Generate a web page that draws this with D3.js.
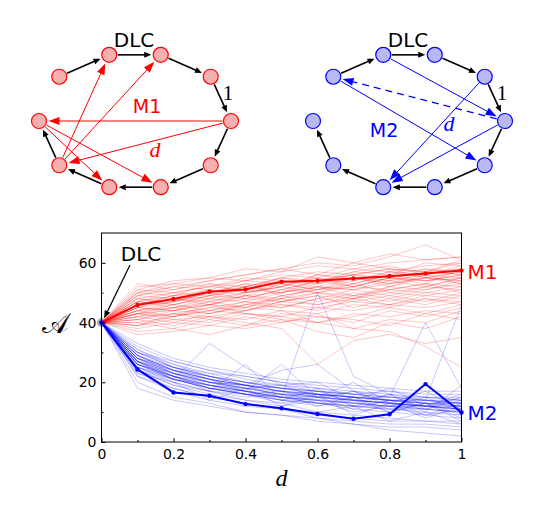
<!DOCTYPE html>
<html>
<head>
<meta charset="utf-8">
<script src="https://cdn.jsdelivr.net/npm/d3@7"></script>
<style>
body { margin: 0; background: #fff; }
svg { display: block; }
</style>
</head>
<body>
<svg id="fig" width="545" height="516"></svg>
<script>
// ---- data ----
const dValues = [0, 0.1, 0.2, 0.3, 0.4, 0.5, 0.6, 0.7, 0.8, 0.9, 1];
const startValue = 40; // DLC
const m1Mean = [40, 45.9, 47.9, 50.3, 51.1, 53.7, 54.0, 54.8, 55.5, 56.4, 57.4];
const m2Mean = [40, 24.3, 16.6, 15.5, 12.7, 11.3, 9.4, 7.8, 9.3, 19.4, 9.9];

// single runs, values for d = 0.1 ... 1 (all start at 40)
const m1Runs = [
    [44, 46, 48, 47, 50, 52, 51, 53, 55, 54],
    [47, 49, 50, 52, 51, 54, 56, 55, 57, 58],
    [42, 43, 45, 44, 47, 46, 48, 50, 49, 51],
    [50, 52, 51, 54, 56, 55, 58, 57, 59, 60],
    [39, 41, 40, 43, 42, 45, 44, 46, 45, 47],
    [45, 44, 47, 49, 48, 50, 52, 51, 53, 52],
    [52, 53, 55, 54, 57, 59, 58, 60, 61, 62],
    [37, 38, 36, 39, 41, 40, 43, 42, 44, 43],
    [46, 48, 47, 50, 53, 51, 52, 55, 54, 56],
    [43, 45, 46, 48, 47, 49, 48, 51, 53, 50],
    [48, 47, 50, 53, 52, 56, 54, 57, 56, 59],
    [41, 39, 42, 41, 44, 43, 46, 45, 48, 46],
    [44, 47, 49, 48, 51, 50, 53, 56, 54, 55],
    [49, 51, 53, 52, 55, 57, 56, 54, 58, 57],
    [40, 42, 44, 46, 45, 48, 47, 49, 47, 50],
    [45, 48, 46, 49, 50, 53, 55, 52, 56, 53],
    [38, 40, 39, 42, 40, 43, 38, 41, 40, 44],
    [51, 50, 52, 55, 54, 53, 57, 59, 56, 58],
    [43, 44, 43, 46, 49, 47, 50, 48, 51, 53],
    [47, 46, 49, 51, 50, 52, 51, 54, 52, 55],
    [42, 45, 47, 45, 48, 52, 49, 47, 50, 49],
    [53, 51, 54, 56, 58, 56, 60, 58, 57, 61],
    [40, 38, 41, 39, 43, 42, 40, 44, 42, 45],
    [46, 49, 51, 50, 52, 55, 53, 56, 58, 56],
    [44, 42, 45, 47, 46, 44, 48, 46, 49, 48],
    [48, 50, 49, 52, 54, 52, 55, 53, 55, 57],
    [39, 42, 44, 43, 41, 37, 35, 40, 38, 42],
    [45, 47, 50, 53, 49, 51, 54, 57, 55, 53],
    [41, 43, 42, 44, 47, 49, 45, 48, 46, 49],
    [50, 53, 52, 51, 55, 54, 57, 56, 60, 59],
    [36, 37, 39, 38, 40, 42, 41, 39, 43, 41],
    [47, 45, 48, 50, 52, 50, 49, 52, 51, 54],
    [43, 46, 44, 47, 45, 48, 51, 49, 52, 51],
    [49, 48, 51, 49, 53, 55, 52, 55, 54, 56],
    [42, 40, 43, 45, 44, 40, 42, 45, 43, 46],
    [46, 49, 48, 52, 50, 54, 56, 58, 55, 57],
    [43, 41, 42, 40, 38, 26, 34, 36, 33, 35],
    [45, 44, 46, 43, 42, 40, 38, 37, 32, 25],
    [49, 52, 54, 56, 58, 60, 59, 62, 66, 61],
    [51, 54, 55, 58, 57, 62, 60, 63, 61, 62],
    [41, 44, 46, 45, 49, 51, 53, 50, 52, 55],
    [48, 46, 49, 52, 55, 53, 56, 58, 57, 60],
    [44, 45, 43, 46, 48, 46, 49, 51, 50, 52],
    [50, 49, 53, 50, 52, 56, 55, 53, 57, 56],
    [39, 43, 41, 44, 46, 45, 47, 46, 48, 47],
    [46, 47, 50, 48, 51, 54, 52, 55, 53, 58],
    [43, 42, 46, 49, 47, 50, 48, 52, 55, 54],
    [47, 50, 52, 54, 53, 51, 55, 54, 56, 55]
];
const m2Runs = [
    [28, 23, 20, 18, 16, 15, 14, 13, 12, 12],
    [26, 21, 18, 16, 17, 13, 15, 11, 13, 9],
    [30, 25, 22, 20, 18, 17, 15, 14, 14, 13],
    [24, 19, 16, 14, 12, 14, 10, 12, 9, 11],
    [29, 24, 21, 19, 17, 16, 15, 15, 14, 13],
    [27, 22, 19, 17, 15, 14, 13, 12, 12, 11],
    [32, 27, 24, 21, 19, 18, 17, 16, 15, 15],
    [25, 20, 17, 15, 16, 12, 14, 10, 13, 8],
    [28, 24, 20, 19, 15, 17, 13, 16, 11, 14],
    [23, 18, 15, 13, 11, 9, 8, 7, 7, 6],
    [31, 26, 23, 22, 20, 18, 16, 17, 15, 14],
    [26, 22, 18, 17, 14, 16, 12, 14, 9, 13],
    [29, 23, 21, 18, 16, 16, 14, 13, 12, 11],
    [20, 15, 13, 10, 9, 7, 6, 5, 5, 4],
    [27, 23, 19, 18, 16, 14, 17, 12, 15, 10],
    [30, 26, 22, 19, 18, 16, 15, 14, 13, 12],
    [25, 21, 18, 16, 13, 15, 11, 14, 12, 16],
    [28, 22, 20, 17, 15, 13, 12, 11, 10, 9],
    [24, 20, 17, 16, 14, 12, 15, 10, 13, 7],
    [33, 28, 25, 23, 21, 20, 19, 18, 17, 17],
    [26, 21, 19, 17, 16, 15, 14, 13, 12, 12],
    [22, 17, 14, 12, 11, 10, 9, 8, 7, 7],
    [29, 25, 22, 20, 19, 17, 16, 15, 15, 14],
    [27, 22, 18, 16, 14, 13, 11, 10, 9, 8],
    [18, 14, 12, 10, 9, 8, 7, 6, 6, 5],
    [31, 25, 23, 20, 18, 17, 16, 14, 14, 13],
    [26, 23, 20, 18, 19, 15, 17, 13, 11, 15],
    [28, 24, 21, 19, 18, 16, 15, 14, 13, 13],
    [24, 19, 17, 14, 13, 10, 12, 7, 10, 6],
    [30, 27, 24, 22, 20, 19, 18, 17, 16, 16],
    [27, 21, 33, 25, 19, 20, 14, 18, 12, 15],
    [25, 22, 17, 26, 14, 18, 12, 16, 10, 19],
    [29, 24, 21, 17, 26, 15, 20, 13, 17, 11],
    [23, 20, 14, 18, 12, 16, 9, 13, 8, 12],
    [26, 22, 19, 17, 15, 50, 22, 16, 14, 12],
    [28, 23, 20, 19, 24, 26, 17, 15, 40, 18],
    [27, 21, 18, 16, 15, 14, 13, 12, 14, 46],
    [22, 18, 15, 13, 11, 8, 6, 4, 3, 2],
    [27, 23, 20, 18, 17, 15, 14, 13, 12, 11],
    [29, 24, 22, 19, 17, 16, 15, 14, 13, 12],
    [25, 21, 19, 17, 15, 14, 13, 12, 11, 10],
    [28, 25, 22, 20, 18, 17, 16, 15, 14, 14],
    [26, 22, 19, 16, 15, 13, 12, 11, 11, 10],
    [30, 25, 21, 19, 17, 16, 15, 14, 13, 13],
    [24, 21, 18, 16, 14, 13, 12, 12, 11, 10],
    [27, 24, 21, 19, 17, 15, 14, 13, 12, 11]
];

const xTicks = [0, 0.2, 0.4, 0.6, 0.8, 1];
const xMinor = [0.1, 0.3, 0.5, 0.7, 0.9];
const yTicks = [0, 20, 40, 60];
const yMinor = [10, 30, 50];

// networks: nodes 0..9 around the ring (0 = right, counter-clockwise)
const ringEdges = [[4, 3], [3, 2], [2, 1], [1, 0], [0, 9], [9, 8], [8, 7], [7, 6], [6, 5]];
const m1Edges = [[6, 3], [6, 2], [0, 5], [0, 6], [5, 7], [5, 8]];
const m2Edges = [[3, 0], [4, 9], [1, 7], [0, 7]];
const m2Dashed = [[0, 4]];

const RED = "#ff0000", BLUE = "#0000ff";
const svg = d3.select("#fig");

// ---- network diagrams ----
const nodeR = 7.5;
function nodePos(k, cx) {
    const a = k * 36 * Math.PI / 180, c = Math.cos(a), s = Math.sin(a);
    return [cx + 96 * Math.sign(c) * Math.pow(Math.abs(c), 1.12),
            121 - 69 * Math.sign(s) * Math.pow(Math.abs(s), 0.835)];
}

function arrow(g, p0, p1, color, width, headL, headW, dashed) {
    const dx = p1[0] - p0[0], dy = p1[1] - p0[1];
    const len = Math.hypot(dx, dy), ux = dx / len, uy = dy / len;
    const sx = p0[0] + ux * (nodeR + 1), sy = p0[1] + uy * (nodeR + 1);
    const tx = p1[0] - ux * (nodeR + 2), ty = p1[1] - uy * (nodeR + 2);
    const bx = tx - ux * headL, by = ty - uy * headL;
    g.append("line")
        .attr("x1", sx).attr("y1", sy).attr("x2", bx + ux * 1).attr("y2", by + uy * 1)
        .attr("stroke", color).attr("stroke-width", width)
        .attr("stroke-dasharray", dashed ? "7,5" : null);
    g.append("path")
        .attr("d", `M${tx},${ty}L${bx - uy * headW / 2},${by + ux * headW / 2}L${bx + uy * headW / 2},${by - ux * headW / 2}Z`)
        .attr("fill", color);
}

function drawNetwork(cx, color, fill, edges, dashedEdges, name, namePos, dPos) {
    const g = svg.append("g");
    const pos = d3.range(10).map(k => nodePos(k, cx));
    ringEdges.forEach(e => arrow(g, pos[e[0]], pos[e[1]], "#000", 1.6, 7, 6, false));
    edges.forEach(e => arrow(g, pos[e[0]], pos[e[1]], color, 1, 11, 8, false));
    dashedEdges.forEach(e => arrow(g, pos[e[0]], pos[e[1]], color, 1.2, 11, 8, true));
    g.selectAll("circle").data(pos).enter().append("circle")
        .attr("cx", d => d[0]).attr("cy", d => d[1]).attr("r", nodeR)
        .attr("fill", fill).attr("stroke", color).attr("stroke-width", 1.2);
    g.append("text").attr("x", cx - 1).attr("y", 46.5).attr("text-anchor", "middle")
        .attr("font-family", "DejaVu Sans").attr("font-size", 20).text("DLC");
    g.append("text").attr("x", cx + 93).attr("y", 100).attr("text-anchor", "middle")
        .attr("font-family", "Liberation Serif").attr("font-size", 21).text("1");
    g.append("text").attr("x", namePos[0]).attr("y", namePos[1]).attr("text-anchor", "middle")
        .attr("font-family", "DejaVu Sans").attr("font-size", 19).attr("fill", color).text(name);
    g.append("text").attr("x", dPos[0]).attr("y", dPos[1]).attr("text-anchor", "middle")
        .attr("font-family", "Liberation Serif").attr("font-style", "italic")
        .attr("font-size", 22).attr("fill", color).text("d");
}

drawNetwork(135, RED, "#f5b0b0", m1Edges, [], "M1", [147, 113], [155, 157]);
drawNetwork(409, BLUE, "#b8b8f5", m2Edges, m2Dashed, "M2", [384, 137], [449, 131]);

// ---- line chart ----
const x = d3.scaleLinear().domain([0, 1]).range([101.5, 461.5]);
const y = d3.scaleLinear().domain([0, 70]).range([442, 233]);
const line = d3.line().x((v, i) => x(dValues[i])).y(v => y(v));

const chart = svg.append("g");

chart.append("circle")
    .attr("cx", x(0)).attr("cy", y(startValue)).attr("r", 4.5)
    .attr("fill", "#888").attr("fill-opacity", 0.7);

chart.append("g").selectAll("path").data(m1Runs).enter().append("path")
    .attr("d", r => line([startValue, ...r]))
    .attr("fill", "none").attr("stroke", RED).attr("stroke-opacity", 0.22).attr("stroke-width", 1);

chart.append("g").selectAll("path").data(m2Runs).enter().append("path")
    .attr("d", r => line([startValue, ...r]))
    .attr("fill", "none").attr("stroke", BLUE).attr("stroke-opacity", 0.22).attr("stroke-width", 1);

[[m1Mean, RED], [m2Mean, BLUE]].forEach(([vals, color]) => {
    chart.append("path").attr("d", line(vals))
        .attr("fill", "none").attr("stroke", color).attr("stroke-width", 2);
    chart.append("g").selectAll("circle").data(vals).enter().append("circle")
        .attr("cx", (v, i) => x(dValues[i])).attr("cy", v => y(v)).attr("r", 2.2)
        .attr("fill", color);
});

// axes (ticks pointing inwards)
const fontAxis = "DejaVu Sans";
const xAxis = chart.append("g").attr("transform", "translate(0,442)")
    .call(d3.axisBottom(x).tickValues(xTicks).tickSizeInner(-4).tickSizeOuter(0).tickPadding(7)
        .tickFormat(d3.format("")));
const xAxisMinor = chart.append("g").attr("transform", "translate(0,442)")
    .call(d3.axisBottom(x).tickValues(xMinor).tickSizeInner(-2).tickSizeOuter(0).tickFormat(""));
const yAxis = chart.append("g").attr("transform", "translate(101.5,0)")
    .call(d3.axisLeft(y).tickValues(yTicks).tickSizeInner(-4).tickSizeOuter(0).tickPadding(5));
const yAxisMinor = chart.append("g").attr("transform", "translate(101.5,0)")
    .call(d3.axisLeft(y).tickValues(yMinor).tickSizeInner(-2).tickSizeOuter(0).tickFormat(""));
[xAxis, xAxisMinor, yAxis, yAxisMinor].forEach(a => {
    a.select(".domain").remove();
    a.selectAll("text").attr("font-family", fontAxis).attr("font-size", 14).attr("fill", "#000");
    a.selectAll("line").attr("stroke", "#000");
});
xAxis.selectAll("text").attr("dy", "0.71em");

chart.append("rect")
    .attr("x", x(0)).attr("y", y(70)).attr("width", x(1) - x(0)).attr("height", y(0) - y(70))
    .attr("fill", "none").attr("stroke", "#000").attr("stroke-width", 1);

// labels
chart.append("text").attr("x", (x(0) + x(1)) / 2).attr("y", 486).attr("text-anchor", "middle")
    .attr("font-family", "Liberation Serif").attr("font-style", "italic").attr("font-size", 24).text("d");
chart.append("text").attr("x", 55).attr("y", y(startValue) + 10).attr("text-anchor", "middle")
    .attr("font-family", "DejaVu Serif").attr("font-size", 28).text("\u{1D49C}");

chart.append("text").attr("x", x(1) + 6).attr("y", y(m1Mean[10]) + 8)
    .attr("font-family", "DejaVu Sans").attr("font-size", 20).attr("fill", RED).text("M1");
chart.append("text").attr("x", x(1) + 6).attr("y", y(m2Mean[10]) + 8)
    .attr("font-family", "DejaVu Sans").attr("font-size", 20).attr("fill", BLUE).text("M2");

// DLC annotation
chart.append("text").attr("x", 141).attr("y", 261).attr("text-anchor", "middle")
    .attr("font-family", "DejaVu Sans").attr("font-size", 20).text("DLC");
(function () {
    const sx = 130, sy = 265, tx = x(0) + 2.5, ty = y(startValue) - 4;
    const len = Math.hypot(tx - sx, ty - sy), ux = (tx - sx) / len, uy = (ty - sy) / len;
    const bx = tx - ux * 8, by = ty - uy * 8;
    chart.append("line").attr("x1", sx).attr("y1", sy).attr("x2", bx).attr("y2", by)
        .attr("stroke", "#000").attr("stroke-width", 1.2);
    chart.append("path")
        .attr("d", `M${tx},${ty}L${bx - uy * 3},${by + ux * 3}L${bx + uy * 3},${by - ux * 3}Z`)
        .attr("fill", "#000");
})();
</script>
</body>
</html>
